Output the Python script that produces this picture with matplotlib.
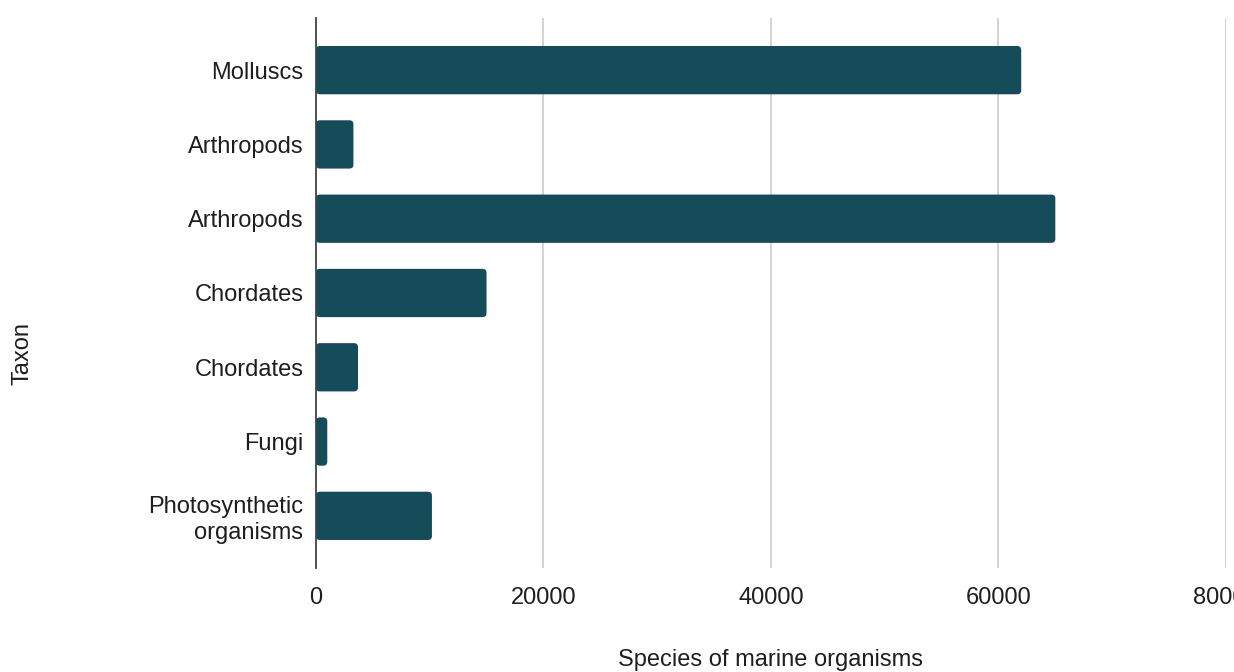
import matplotlib.pyplot as plt
import numpy as np
from matplotlib.patches import FancyBboxPatch

plt.rcParams['font.family'] = ['Liberation Sans', 'DejaVu Sans']

taxa = ['Molluscs', 'Arthropods', 'Arthropods', 'Chordates', 'Chordates',
        'Fungi', 'Photosynthetic\norganisms']
species = [62000, 3300, 65000, 15000, 3700, 1000, 10200]
x_ticks = [0, 20000, 40000, 60000, 80000]

bar_color = '#154c59'
text_color = '#1e1e1e'
fs = 17

fig = plt.figure(figsize=(12.34, 6.72), dpi=100)
ax = fig.add_axes([0.256, 0.155, 0.7375, 0.818])

y = np.arange(len(taxa))
ax.set_xlim(0, 80000)
ax.set_ylim(len(taxa) - 0.3, -0.7)

bars = ax.barh(y, species, height=0.65, color=bar_color, zorder=3)

# swap the plain rectangles for slightly rounded ones
(x0, y0), (x1, y1) = ax.transData.inverted().transform([[0, 0], [1, 1]])
x_per_px = abs(x1 - x0)
y_per_px = abs(y1 - y0)
for rect in bars.patches:
    rect.set_visible(False)
    ax.add_patch(FancyBboxPatch(
        (rect.get_x(), rect.get_y()), rect.get_width(), rect.get_height(),
        boxstyle='round,pad=0,rounding_size=%f' % (4 * x_per_px),
        mutation_aspect=y_per_px / x_per_px,
        facecolor=bar_color, edgecolor='none', zorder=3))

ax.set_yticks(y)
ax.set_yticklabels(taxa, fontsize=fs, color=text_color)
ax.set_xticks(x_ticks)
ax.set_xticklabels([str(t) for t in x_ticks], fontsize=fs, color=text_color)
ax.tick_params(axis='both', length=0)
ax.tick_params(axis='y', pad=9)
ax.tick_params(axis='x', pad=14)

# vertical grid only
ax.grid(axis='x', color='#cccccc', linewidth=1.2, zorder=0)
ax.grid(axis='y', visible=False)
for side in ['top', 'right', 'bottom']:
    ax.spines[side].set_visible(False)
ax.spines['left'].set_color('#444444')
ax.spines['left'].set_linewidth(1.3)
ax.spines['left'].set_zorder(4)

ax.set_xlabel('Species of marine organisms', fontsize=fs, color=text_color)
ax.xaxis.set_label_coords(0.5, -0.148)
ax.set_ylabel('Taxon', fontsize=fs, color=text_color)
ax.yaxis.set_label_coords(-0.31, 0.39)

fig.savefig('out.png', dpi=100)
